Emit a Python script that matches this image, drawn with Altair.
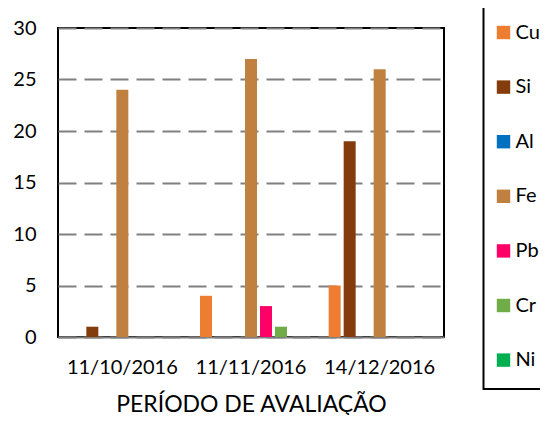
import altair as alt
import pandas as pd

dates = ["11/10/2016", "11/11/2016", "14/12/2016"]
elements = ["Cu", "Si", "Al", "Fe", "Pb", "Cr", "Ni"]
colors = ["#ED7D31", "#843C0C", "#0070C0", "#C0803F", "#FF0066", "#70AD47", "#00B050"]

cu = [0, 4, 5]
si = [1, 0, 19]
al = [0, 0, 0]
fe = [24, 27, 26]
pb = [0, 3, 0]
cr = [0, 1, 0]
ni = [0, 0, 0]

series = {"Cu": cu, "Si": si, "Al": al, "Fe": fe, "Pb": pb, "Cr": cr, "Ni": ni}
rows = []
for el in elements:
    for d, v in zip(dates, series[el]):
        rows.append({"date": d, "el": el, "v": v})
df = pd.DataFrame(rows)

FONT = "Lato"

chart = alt.Chart(df).mark_bar().encode(
    x=alt.X("date:N", sort=dates,
            scale=alt.Scale(paddingInner=0.184, paddingOuter=0.092),
            axis=alt.Axis(title="PERÍODO DE AVALIAÇÃO", labelAngle=0, ticks=False,
                          domainColor="#808080", domainWidth=2, labelPadding=20,
                          labelFont=FONT, labelFontSize=20, labelColor="#000000",
                          titleFont=FONT, titleFontSize=23, titleFontWeight="normal",
                          titleColor="#000000", titlePadding=16, grid=False)),
    xOffset=alt.XOffset("el:N", sort=elements,
                        scale=alt.Scale(paddingInner=0.2, paddingOuter=0.1)),
    y=alt.Y("v:Q", scale=alt.Scale(domain=[0, 30]),
            axis=alt.Axis(title=None, values=[0, 5, 10, 15, 20, 25, 30], ticks=False,
                          domain=False, labelPadding=22, labelFont=FONT, labelFontSize=20,
                          labelColor="#000000", grid=True, gridDash=[18, 8],
                          gridColor="#808080", gridWidth=2)),
    color=alt.Color("el:N", sort=elements,
                    scale=alt.Scale(domain=elements, range=colors),
                    legend=alt.Legend(title=None, orient="none", legendX=425.5, legendY=-24,
                                      strokeColor="black", padding=18.5,
                                      symbolType="square", symbolSize=180,
                                      symbolOffset=-8.5,
                                      symbolStrokeWidth=0, labelFont=FONT,
                                      labelFontSize=20, labelColor="#000000",
                                      rowPadding=34.6, labelOffset=2, fillColor="white")),
).properties(
    width=386, height=309,
    autosize=alt.AutoSizeParams(type="none"),
    padding={"left": 50, "top": 20, "right": 96, "bottom": 78},
).configure_view(stroke="black", strokeWidth=2).configure_legend(strokeWidth=2)

chart.save("out.html", embed_options={"renderer": "svg", "actions": False})
